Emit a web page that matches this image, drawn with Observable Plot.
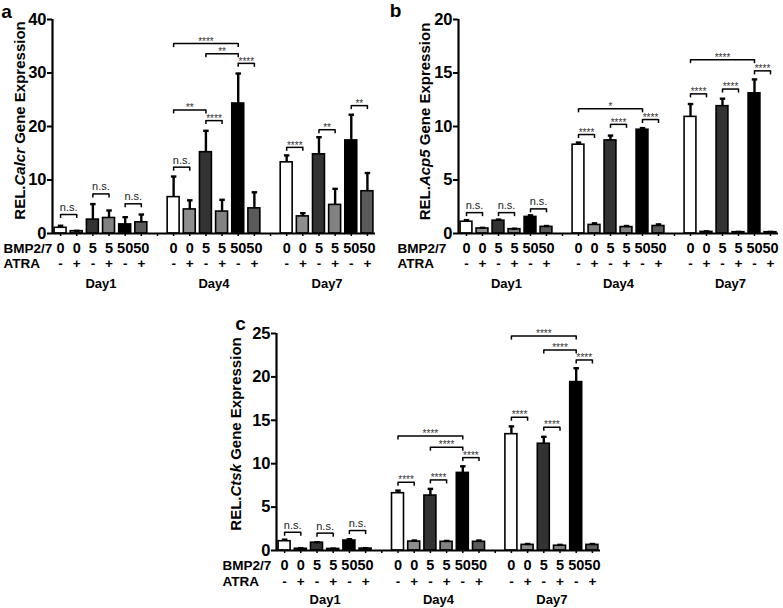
<!DOCTYPE html>
<html><head><meta charset="utf-8">
<script src="https://cdn.jsdelivr.net/npm/d3@7"></script>
<script src="https://cdn.jsdelivr.net/npm/@observablehq/plot@0.6"></script>
<style>
body{margin:0;background:#fff;}
#chart{position:relative;width:783px;height:608px;overflow:hidden;}
#chart svg{position:absolute;}
</style></head><body><div id="chart"></div>
<script>
// ---- shared labels ----
const days = ["Day1", "Day4", "Day7"];
const bmpLabels = ["0", "0", "5", "5", "50", "50"];
const atraLabels = ["-", "+", "-", "+", "-", "+"];

// ---- panel a: Calcr ----
const calcrMean  = [1.07, 0.43, 2.6, 2.9, 1.7, 2.1,   6.8, 4.5, 15.2, 4.1, 24.3, 4.7,   13.3, 3.2, 14.8, 5.35, 17.4, 7.9];
const calcrUpper = [1.45, 0.5, 5.5, 4.3, 3.05, 3.55,  10.65, 6.2, 19.2, 6.3, 29.9, 7.7,  14.6, 3.8, 18.0, 8.35, 22.2, 11.3];
const calcrTicks = [0, 10, 20, 30, 40];
// [day, fromBar, toBar, height, label]
const calcrSig = [
  [0,0,1,3.55,"n.s."],[0,2,3,7.4,"n.s."],[0,4,5,5.55,"n.s."],
  [1,0,1,12.4,"n.s."],[1,0,2,23.1,"**"],[1,2,3,21.1,"****"],[1,0,4,35.5,"****"],[1,2,4,33.6,"**"],[1,4,5,31.8,"****"],
  [2,0,1,16.1,"****"],[2,2,3,19.4,"**"],[2,4,5,23.9,"**"]
];

// ---- panel b: Acp5 ----
const acp5Mean  = [1.1, 0.47, 1.2, 0.4, 1.55, 0.62,   8.3, 0.8, 8.7, 0.6, 9.7, 0.7,   10.9, 0.15, 11.9, 0.12, 13.1, 0.12];
const acp5Upper = [1.25, 0.53, 1.3, 0.45, 1.7, 0.7,   8.5, 0.95, 9.15, 0.7, 9.85, 0.85,   12.1, 0.2, 12.6, 0.15, 14.4, 0.15];
const acp5Ticks = [0, 5, 10, 15, 20];
const acp5Sig = [
  [0,0,1,1.95,"n.s."],[0,2,3,1.95,"n.s."],[0,4,5,2.3,"n.s."],
  [1,0,1,9.25,"****"],[1,2,3,10.2,"****"],[1,0,4,11.65,"*"],[1,4,5,10.65,"****"],
  [2,0,1,13.05,"****"],[2,2,3,13.5,"****"],[2,0,4,16.25,"****"],[2,4,5,15.2,"****"]
];

// ---- panel c: Ctsk ----
const ctskMean  = [1.07, 0.2, 0.9, 0.18, 1.15, 0.22,   6.6, 1.03, 6.33, 1.0, 8.94, 1.0,   13.4, 0.65, 12.3, 0.55, 19.4, 0.65];
const ctskUpper = [1.25, 0.25, 0.95, 0.22, 1.3, 0.27,  6.9, 1.15, 7.1, 1.1, 9.7, 1.15,   14.3, 0.75, 13.1, 0.65, 21.0, 0.75];
const ctskTicks = [0, 5, 10, 15, 20, 25];
const ctskSig = [
  [0,0,1,2.1,"n.s."],[0,2,3,2.0,"n.s."],[0,4,5,2.3,"n.s."],
  [1,0,1,7.86,"****"],[1,2,3,8.13,"****"],[1,0,4,13.2,"****"],[1,2,4,11.9,"****"],[1,4,5,10.7,"****"],
  [2,0,1,15.35,"****"],[2,2,3,14.2,"****"],[2,0,4,24.7,"****"],[2,2,4,23.1,"****"],[2,4,5,21.95,"****"]
];

const barFills = ["#ffffff", "#8e8e8e", "#333333", "#828282", "#000000", "#5a5a5a"];
const FONT = "'Liberation Sans', Arial, Helvetica, sans-serif";

function panel(cfg) {
  const slot = (day, i) => day * 7 + i;
  const bars = cfg.mean.map((v, k) => ({pos: slot(Math.floor(k / 6), k % 6), bar: k % 6, value: v, upper: cfg.upper[k]}));
  const sigs = cfg.sig.map(([d, a, b, y, label]) => ({x1: slot(d, a), x2: slot(d, b), y, label}));
  const ends = sigs.flatMap(s => [{x: s.x1, y: s.y}, {x: s.x2, y: s.y}]);
  const ymax = cfg.ticks[cfg.ticks.length - 1];
  const r = cfg.rows;
  const plot = Plot.plot({
    width: cfg.width, height: cfg.height,
    marginLeft: cfg.margin[3], marginRight: cfg.margin[1], marginTop: cfg.margin[0], marginBottom: cfg.margin[2],
    x: {domain: [-0.5, 19.5]},
    y: {domain: [0, ymax]},
    color: {type: "identity"},
    style: {fontFamily: FONT, fontWeight: "bold", fontSize: "13px", color: "black", background: "transparent"},
    marks: [
      Plot.axisY({ticks: cfg.ticks, tickSize: 5, tickPadding: 1, fontSize: 16.5, strokeWidth: 2, tickFormat: d => String(d), label: null}),
      Plot.axisX({ticks: d3.range(20), tickSize: 3, tickFormat: () => "", strokeWidth: 1.5, label: null}),
      Plot.rectY(bars, {x1: d => d.pos - 0.37, x2: d => d.pos + 0.37, y: "value", fill: d => barFills[d.bar], stroke: "black", strokeWidth: 1.6}),
      Plot.ruleX(bars, {x: "pos", y1: "value", y2: "upper", strokeWidth: 2.4}),
      Plot.link(bars, {x1: d => d.pos - 0.17, x2: d => d.pos + 0.17, y1: "upper", y2: "upper", strokeWidth: 2.4}),
      Plot.ruleY([0], {strokeWidth: 2.2}),
      Plot.ruleX([-0.5], {y1: 0, y2: ymax, strokeWidth: 2.2}),
      // significance brackets
      Plot.link(sigs, {x1: "x1", x2: "x2", y1: "y", y2: "y", strokeWidth: 1.5}),
      Plot.ruleX(ends, {x: "x", y1: "y", y2: "y", insetBottom: -4, strokeWidth: 1.5}),
      Plot.text(sigs.filter(s => s.label === "n.s."), {x: d => (d.x1 + d.x2) / 2, y: "y", text: "label", dy: -7, fontSize: 11, fontWeight: "normal", fill: "#222"}),
      Plot.text(sigs.filter(s => s.label !== "n.s."), {x: d => (d.x1 + d.x2) / 2, y: "y", text: "label", dy: -2, fontSize: 10, fontWeight: "normal", fill: "#333"}),
      // category rows under the axis
      Plot.text(["BMP2/7"], {frameAnchor: "bottom-left", textAnchor: "start", lineAnchor: "middle", dx: cfg.rowDx, dy: r[0], fontSize: 13.5}),
      Plot.text(["ATRA"], {frameAnchor: "bottom-left", textAnchor: "start", lineAnchor: "middle", dx: cfg.rowDx, dy: r[1], fontSize: 13.5}),
      Plot.text(bars, {x: "pos", frameAnchor: "bottom", lineAnchor: "middle", dy: r[0], text: d => bmpLabels[d.bar], fontSize: 14.5}),
      Plot.text(bars, {x: "pos", frameAnchor: "bottom", lineAnchor: "middle", dy: r[1], text: d => atraLabels[d.bar], fontSize: 13.5}),
      Plot.text(days, {x: (d, i) => slot(i, 2.5), frameAnchor: "bottom", lineAnchor: "middle", dy: r[2], text: d => d, fontSize: 13}),
      // y label and panel letter
      Plot.text([cfg.ylabel.join("")], {frameAnchor: "left", textAnchor: "middle", lineAnchor: "middle", rotate: -90, dx: cfg.labelDx, dy: cfg.labelDy, fontSize: 15}),
      Plot.text([cfg.letter], {frameAnchor: "top-left", textAnchor: "middle", lineAnchor: "middle", dx: cfg.letterDx, dy: cfg.letterDy, fontSize: 19})
    ]
  });
  // italicise the gene symbol within the y label
  const full = cfg.ylabel.join("");
  plot.querySelectorAll("text").forEach(t => {
    if (t.textContent === full) {
      t.textContent = "";
      cfg.ylabel.forEach((part, i) => {
        const ts = document.createElementNS("http://www.w3.org/2000/svg", "tspan");
        ts.textContent = part;
        if (i === 1) ts.setAttribute("font-style", "italic");
        t.appendChild(ts);
      });
    }
  });
  plot.style.left = cfg.left + "px";
  plot.style.top = cfg.top + "px";
  return plot;
}

const chart = document.getElementById("chart");
chart.appendChild(panel({
  left: 0, top: 0, width: 390, height: 300, margin: [19, 15, 67, 52],
  mean: calcrMean, upper: calcrUpper, ticks: calcrTicks, sig: calcrSig,
  ylabel: ["REL.", "Calcr", " Gene Expression"], letter: "a",
  rows: [15, 30, 50], rowDx: -49, labelDx: -32, labelDy: -6, letterDx: -46, letterDy: -8
}));
chart.appendChild(panel({
  left: 390, top: 0, width: 393, height: 300, margin: [19, 5, 67, 68],
  mean: acp5Mean, upper: acp5Upper, ticks: acp5Ticks, sig: acp5Sig,
  ylabel: ["REL.", "Acp5", " Gene Expression"], letter: "b",
  rows: [15, 30, 50], rowDx: -61, labelDx: -33, labelDy: -5, letterDx: -63, letterDy: -9
}));
chart.appendChild(panel({
  left: 200, top: 300, width: 420, height: 308, margin: [33, 20, 58, 76],
  mean: ctskMean, upper: ctskUpper, ticks: ctskTicks, sig: ctskSig,
  ylabel: ["REL.", "Ctsk", " Gene Expression"], letter: "c",
  rows: [15, 31, 49], rowDx: -54, labelDx: -40, labelDy: -8, letterDx: -36, letterDy: -10
}));
</script>
</body></html>
